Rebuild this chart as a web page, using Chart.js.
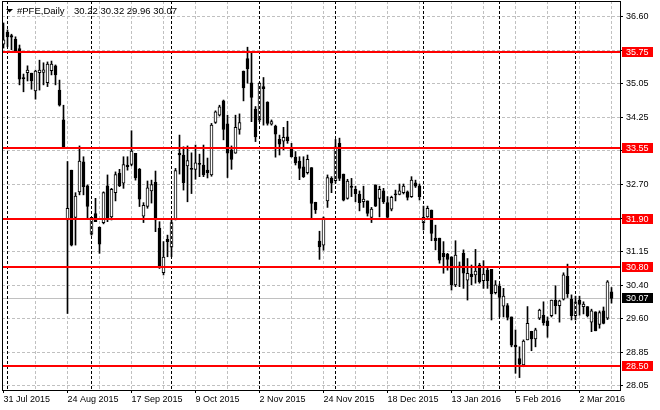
<!DOCTYPE html>
<html><head><meta charset="utf-8">
<script src="https://cdn.jsdelivr.net/npm/chart.js@4.4.1/dist/chart.umd.min.js"></script>
<style>html,body{margin:0;padding:0;background:#fff;}#wrap{position:relative;width:660px;height:410px;}</style>
</head><body><div id="wrap"><canvas id="c"></canvas></div>
<script>
const symbolTitle = '#PFE,Daily';
const lastQuote = '30.22 30.32 29.96 30.07';
const opens = [35.94,36.22,36.14,36.05,35.84,35.17,35.28,35.27,34.86,35.28,35.29,35.05,35.33,35.44,34.88,34.19,31.88,33.03,31.94,32.53,
33.22,32.67,31.55,32.03,31.71,31.82,32.67,31.95,32.51,32.96,32.73,33.15,33.16,33.42,33.05,31.97,32.19,32.55,32.75,31.69,
30.66,31.43,31.25,31.89,33.42,33.38,33.13,33.06,33.05,33.19,33.15,33.03,32.92,34.13,34.30,34.63,34.10,33.50,33.42,33.97,
35.32,35.61,35.05,34.44,34.19,34.96,34.60,34.09,34.05,33.74,33.70,33.80,33.53,33.33,33.24,33.11,32.97,33.09,32.29,31.39,
31.30,32.32,32.84,32.79,33.65,32.94,32.38,32.66,32.59,32.47,32.30,32.32,31.94,32.69,32.38,32.55,32.28,32.13,32.48,32.47,
32.51,32.53,32.42,32.74,32.67,31.82,31.95,32.11,31.46,31.46,31.11,31.09,31.03,30.38,30.82,31.11,30.49,30.63,30.61,30.84,
30.48,30.72,30.74,30.20,30.35,29.89,29.90,29.64,28.99,28.68,28.53,29.11,29.31,29.13,29.61,29.68,29.55,29.67,30.03,29.90,
30.05,30.58,30.05,29.67,30.03,29.88,29.88,29.52,29.76,29.47,29.78,29.61,30.22];
const highs = [36.43,36.27,36.17,36.11,35.92,35.25,35.44,35.27,35.34,35.57,35.51,35.53,35.55,35.46,35.11,34.53,33.23,33.03,32.51,33.59,
33.34,32.69,31.94,32.38,31.72,32.53,32.92,32.61,32.99,33.05,33.34,33.34,33.94,33.42,33.07,32.28,32.78,32.80,33.01,31.84,
31.38,31.53,31.88,33.07,33.84,33.57,33.59,33.43,33.61,33.40,33.61,33.31,34.11,34.40,34.53,34.65,34.30,33.59,34.30,34.33,
35.32,35.87,35.73,34.50,35.05,35.17,34.61,34.19,34.07,33.84,34.02,34.16,33.65,33.46,33.34,33.34,33.38,33.09,32.29,31.62,
31.95,32.92,32.88,33.74,33.77,32.94,32.82,32.84,32.66,32.55,32.66,32.32,32.17,32.69,32.66,32.61,32.42,32.43,32.57,32.71,
32.71,32.55,32.88,32.80,32.71,32.20,32.20,32.11,31.76,31.46,31.38,31.11,31.03,31.40,30.91,31.19,30.99,30.84,31.20,30.88,
30.94,30.77,30.74,30.48,30.40,30.30,29.95,29.64,29.34,28.95,29.11,29.88,29.31,29.38,29.82,29.99,29.64,30.03,30.36,30.03,
30.66,30.86,30.15,30.12,30.12,29.99,29.88,29.82,29.76,29.78,29.87,30.48,30.32];
const lows = [35.85,35.88,35.81,35.77,35.00,34.84,35.09,34.90,34.67,34.88,35.00,34.96,35.23,35.00,34.51,33.53,29.72,31.28,31.30,32.46,
32.46,31.92,31.53,31.84,31.11,31.79,31.84,31.88,32.32,32.65,32.61,33.03,33.13,32.80,32.19,31.82,32.15,32.27,31.61,30.76,
30.61,31.03,31.03,31.88,32.94,32.57,32.30,32.49,32.82,32.88,32.88,32.85,32.89,34.11,34.28,33.73,32.86,33.05,33.42,33.86,
34.63,35.04,34.15,33.69,34.15,34.07,34.07,34.07,33.33,33.38,33.50,33.65,33.33,33.15,32.81,32.86,32.94,31.92,32.03,30.97,
31.18,32.17,32.51,32.73,32.79,32.32,32.36,32.42,32.30,32.09,32.17,31.97,31.82,32.19,31.95,32.26,31.92,32.09,32.32,32.46,
32.48,32.34,32.40,32.63,32.34,31.65,31.94,31.40,31.19,30.88,30.65,30.72,30.26,30.34,30.34,30.30,30.03,30.38,30.42,30.42,
30.30,30.30,29.57,30.17,29.64,29.64,29.57,28.95,28.34,28.24,28.49,29.11,28.86,28.95,29.58,29.45,29.17,29.64,29.71,29.52,
30.03,30.09,29.57,29.57,29.68,29.71,29.64,29.30,29.32,29.38,29.48,29.58,29.96];
const closes = [36.04,36.11,36.10,35.79,35.13,35.14,35.34,35.09,35.32,35.34,35.35,35.48,35.48,35.23,34.53,33.53,32.15,31.30,32.43,33.24,
32.65,32.19,31.94,31.84,31.32,32.51,31.92,32.59,32.93,32.67,33.16,33.11,33.47,32.85,32.36,32.22,32.62,32.70,31.88,30.80,
31.02,31.38,31.82,33.02,33.38,32.74,33.25,33.05,33.20,33.16,32.92,32.97,34.07,34.38,34.49,33.97,33.42,33.28,34.02,34.13,
34.93,35.37,34.71,33.80,35.04,34.91,34.11,34.15,33.86,33.63,33.79,33.71,33.34,33.20,33.07,32.88,33.28,32.26,32.11,31.26,
31.93,32.86,32.73,33.57,32.84,32.34,32.78,32.63,32.49,32.28,32.36,32.03,32.13,32.20,32.59,32.30,31.94,32.40,32.46,32.55,
32.66,32.40,32.80,32.66,32.42,31.94,32.15,31.57,31.40,30.95,31.03,30.97,30.38,31.07,30.78,30.65,30.65,30.57,30.70,30.45,
30.63,30.48,30.17,30.38,30.09,30.12,29.63,28.99,28.95,28.55,29.08,29.49,29.13,29.34,29.80,29.51,29.44,30.03,29.90,30.01,
30.61,30.18,29.67,29.99,29.93,29.94,29.67,29.78,29.32,29.74,29.49,30.45,30.07];
const xTickLabels = ['31 Jul 2015','24 Aug 2015','17 Sep 2015','9 Oct 2015','2 Nov 2015','24 Nov 2015','18 Dec 2015','13 Jan 2016','5 Feb 2016','2 Mar 2016'];
const monthStarts = [1,22,42,64,83,105,124,143];
const levels = [35.75,33.55,31.90,30.80,28.50];
const levelLabels = ['35.75','33.55','31.90','30.80','28.50'];
const bidPrice = 30.07;
const bidLabel = '30.07';
const yGridValues = [28.05,28.825,29.599,30.374,31.149,31.924,32.698,33.473,34.248,35.022,35.797,36.572];
const yGridLabels = ['28.05','28.85','29.60','30.40','31.15','31.90','32.70','33.50','34.25','35.05','35.80','36.60'];

const FAMILY = '"Liberation Sans", Arial, sans-serif';
const FSIZE = 9;
const GRID = '#c0c0c0';

const overlay = {
  id: 'overlay',
  beforeDatasetsDraw(chart) {
    const {ctx, chartArea: a, scales: {y}} = chart;
    const py = Math.round(y.getPixelForValue(bidPrice)) + 0.5;
    ctx.save();
    ctx.strokeStyle = GRID; ctx.lineWidth = 1;
    ctx.beginPath(); ctx.moveTo(a.left, py); ctx.lineTo(a.right, py); ctx.stroke();
    ctx.restore();
  },
  afterDatasetsDraw(chart) {
    const {ctx, chartArea: a, scales: {x, y}} = chart;
    ctx.save();
    ctx.strokeStyle = '#000'; ctx.lineWidth = 1; ctx.setLineDash([3, 2]);
    monthStarts.forEach(i => {
      const px = Math.floor(x.getPixelForValue(i)) + 0.5;
      ctx.beginPath(); ctx.moveTo(px, a.top); ctx.lineTo(px, a.bottom); ctx.stroke();
    });
    ctx.setLineDash([]);
    ctx.strokeStyle = '#ff0000'; ctx.lineWidth = 2;
    levels.forEach(v => {
      const py = Math.round(y.getPixelForValue(v));
      ctx.beginPath(); ctx.moveTo(a.left, py); ctx.lineTo(a.right, py); ctx.stroke();
    });
    ctx.restore();
  },
  afterDraw(chart) {
    const {ctx, chartArea: a, scales: {y}} = chart;
    ctx.save();
    ctx.strokeStyle = '#000'; ctx.lineWidth = 1;
    ctx.strokeRect(a.left + 0.5, a.top + 0.5, a.right - a.left, a.bottom - a.top);
    ctx.font = FSIZE + 'px ' + FAMILY;
    ctx.textBaseline = 'middle'; ctx.textAlign = 'left';
    const tag = (v, txt, bg) => {
      const py = Math.round(y.getPixelForValue(v));
      ctx.fillStyle = bg; ctx.fillRect(a.right + 2, py - 5, 31, 10);
      ctx.fillStyle = '#fff'; ctx.fillText(txt, a.right + 6, py + 0.5);
    };
    levels.forEach((v, i) => tag(v, levelLabels[i], '#ff0000'));
    tag(bidPrice, bidLabel, '#000');
    ctx.fillStyle = '#000';
    ctx.beginPath(); ctx.moveTo(6, 9); ctx.lineTo(13, 9); ctx.lineTo(9.5, 12.5); ctx.closePath(); ctx.fill();
    ctx.textBaseline = 'alphabetic';
    ctx.font = '9.5px ' + FAMILY;
    ctx.fillText(symbolTitle, 17, 14);
    ctx.fillText(lastQuote, 74, 14);
    ctx.restore();
  }
};

const xTicks = [];
for (let i = 0; i < closes.length; i += 8) xTicks.push({value: i});

new Chart(document.getElementById('c'), {
  type: 'bar',
  data: {
    datasets: [
      {
        label: 'body',
        data: opens.map((o, i) => ({x: i, y: [o, closes[i]]})),
        backgroundColor: c => closes[c.dataIndex] >= opens[c.dataIndex] ? '#ffffff' : '#000000',
        borderColor: '#000', borderWidth: 1, borderSkipped: false,
        barThickness: 3, minBarLength: 1, grouped: false, order: 0
      },
      {
        label: 'wick',
        data: lows.map((l, i) => ({x: i, y: [l, highs[i]]})),
        backgroundColor: '#000', borderWidth: 0,
        barThickness: 1, minBarLength: 1, grouped: false, order: 1
      }
    ]
  },
  options: {
    responsive: true, maintainAspectRatio: false, animation: false,
    layout: {padding: {left: 2, top: 1, right: 0, bottom: 0}},
    plugins: {legend: {display: false}, tooltip: {enabled: false}},
    scales: {
      x: {
        type: 'linear', min: -0.375, max: 154.125, offset: false,
        afterBuildTicks: s => { s.ticks = xTicks.map(t => ({value: t.value})); },
        afterFit: s => { s.height = 20; s.paddingLeft = 0; s.paddingRight = 0; },
        grid: {
          offset: false, lineWidth: 1, tickLength: 3,
          color: c => (c.tick && c.tick.value > 0) ? GRID : 'rgba(0,0,0,0)',
          tickColor: c => (c.tick && c.tick.value % 16 === 0) ? '#000' : 'rgba(0,0,0,0)'
        },
        border: {display: false, dash: [3, 2]},
        ticks: {
          autoSkip: false, maxRotation: 0, minRotation: 0, align: 'start', padding: 1, color: '#000',
          font: {family: FAMILY, size: FSIZE},
          callback: v => (v % 16 === 0) ? xTickLabels[v / 16] : ''
        }
      },
      y: {
        position: 'right', min: 27.953, max: 36.937,
        afterBuildTicks: s => { s.ticks = yGridValues.map(v => ({value: v})); },
        afterFit: s => { s.width = 40; s.paddingTop = 0; s.paddingBottom = 0; },
        grid: {color: GRID, lineWidth: 1, tickLength: 3, tickColor: '#000'},
        border: {display: false, dash: [3, 2]},
        ticks: {
          padding: 3, color: '#000', font: {family: FAMILY, size: FSIZE},
          callback: (v, i) => yGridLabels[i]
        }
      }
    }
  },
  plugins: [overlay]
});
</script>
</body></html>
